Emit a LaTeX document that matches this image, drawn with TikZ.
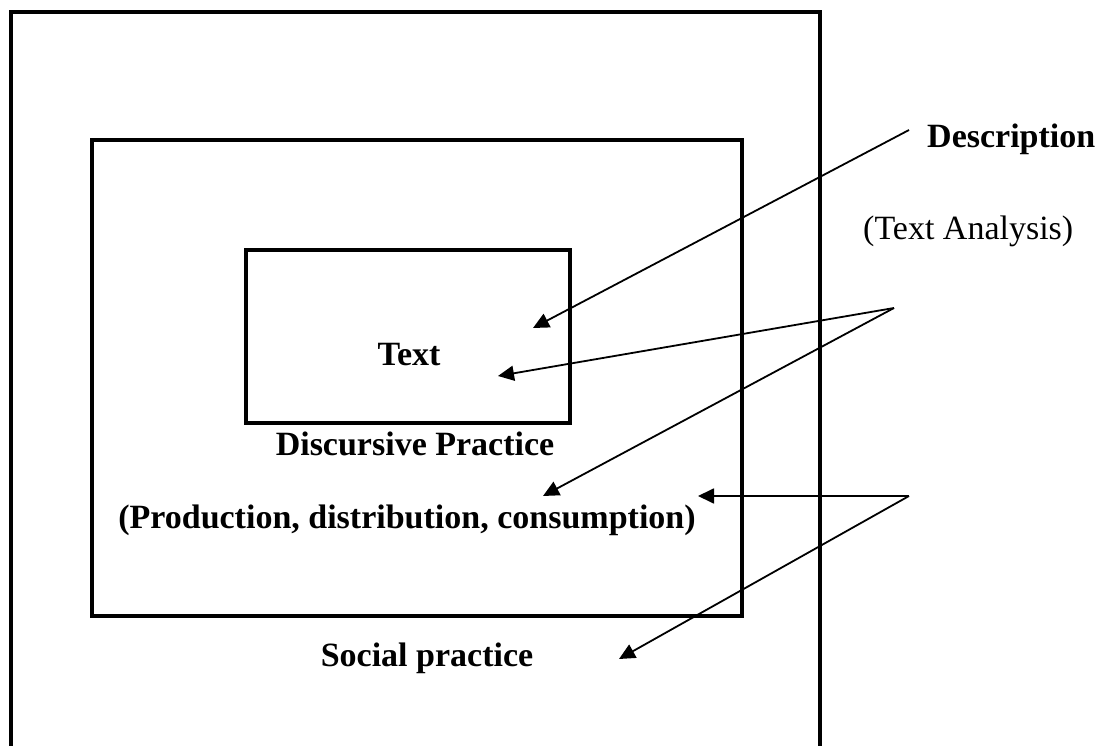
\documentclass[tikz,border=0pt]{standalone}
\usepackage{fontspec}
\setmainfont{Liberation Serif}
\usetikzlibrary{arrows.meta}
\tikzset{
  frame/.style={line width=4pt},
  pointer/.style={line width=1.8pt,-{Triangle[length=16pt,width=15pt]}},
  boldlbl/.style={font=\fontsize{34}{40}\selectfont\bfseries,inner sep=0pt},
  plainlbl/.style={font=\fontsize{34}{40}\selectfont,inner sep=0pt}
}

\begin{document}
\begin{tikzpicture}[x=1pt,y=-1pt]
      \useasboundingbox (0,0) rectangle (1104,746);
      \draw[frame] (10.5,746)--(10.5,12)--(820,12)--(820,746);
      \draw[frame] (92,140) rectangle (742,616);
      \draw[frame] (246,250) rectangle (570,423);
      \node[boldlbl,anchor=base] (text) at (409,366) {Text};
      \node[boldlbl,anchor=base] (discursive) at (415,455) {Discursive Practice};
      \node[boldlbl,anchor=base] (production) at (407,528) {(Production, distribution, consumption)};
      \node[boldlbl,anchor=base] (social) at (427,666) {Social practice};
      \node[boldlbl,anchor=base west] (description) at (927,148) {Description};
      \node[plainlbl,anchor=base west] (analysis) at (863,240) {(Text Analysis)};
      \coordinate (descstart) at (909,130);
      \coordinate (anaapex) at (894,308);
      \coordinate (socapex) at (909,496);
      \coordinate (desctip) at (533,328);
      \coordinate (texttip) at (498,376);
      \coordinate (prodtip) at (543,496);
      \coordinate (disctip) at (698,496);
      \coordinate (socialtip) at (619,659);
      \draw[pointer] (descstart)--(desctip);
      \draw[pointer] (anaapex)--(texttip);
      \draw[pointer] (anaapex)--(prodtip);
      \draw[pointer] (socapex)--(disctip);
      \draw[pointer] (socapex)--(socialtip);
    \end{tikzpicture}
\end{document}
